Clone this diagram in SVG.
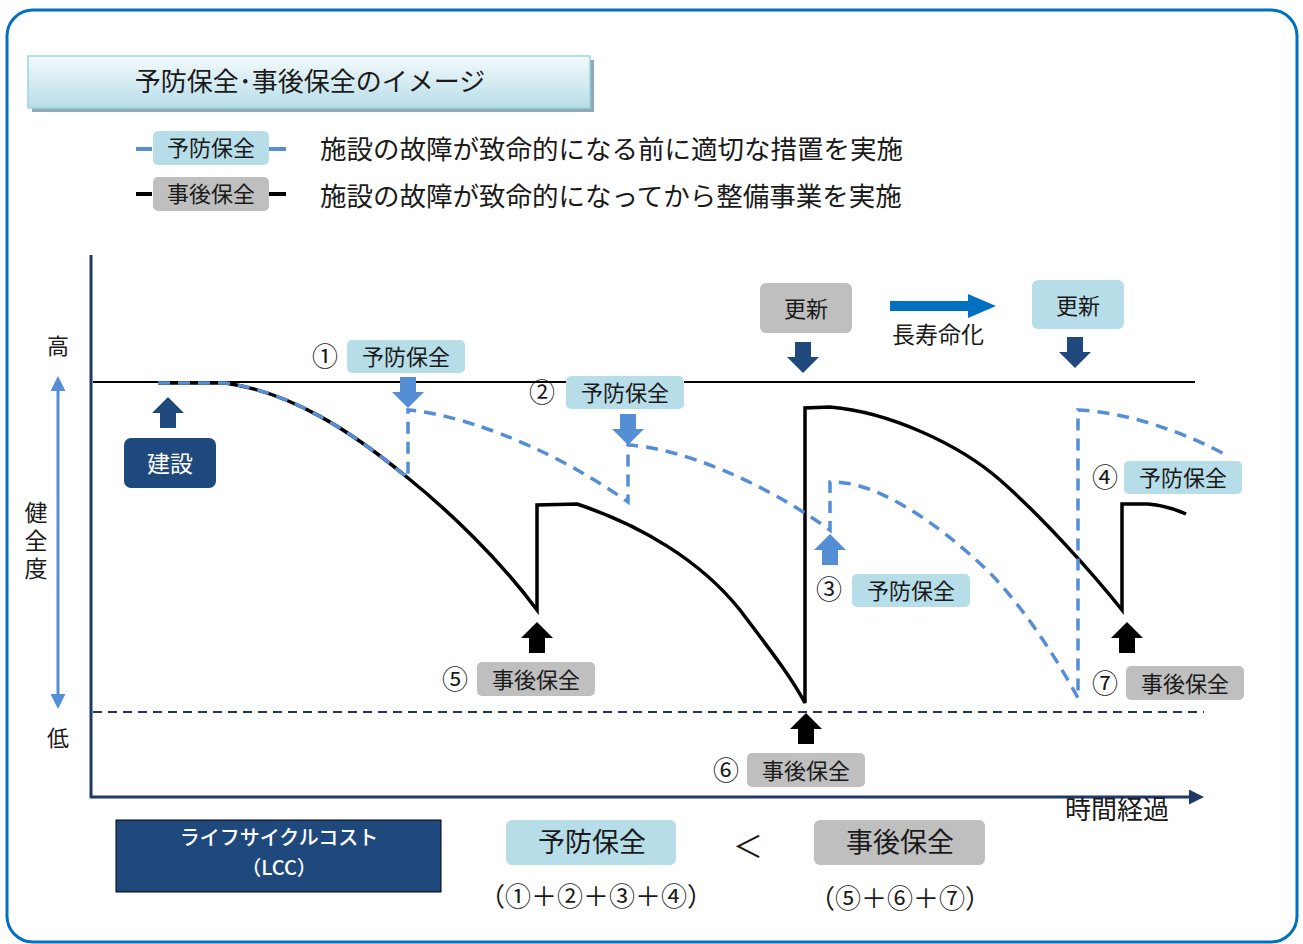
<svg xmlns="http://www.w3.org/2000/svg" xmlns:xlink="http://www.w3.org/1999/xlink" width="1303" height="944" viewBox="0 0 1303 944">
<defs>
<linearGradient id="tg" x1="0" y1="0" x2="0" y2="1">
<stop offset="0" stop-color="#F4FAFC"/>
<stop offset="1" stop-color="#B7DDE8"/>
</linearGradient>
<path id="arrUp" d="M0,0 L16,16 L8,16 L8,31 L-8,31 L-8,16 L-16,16 Z"/>
<path id="arrDn" d="M0,0 L16,-16 L8,-16 L8,-31 L-8,-31 L-8,-16 L-16,-16 Z"/>
<marker id="axHead" viewBox="0 0 10 10" refX="2" refY="5" markerWidth="5" markerHeight="5" orient="auto" markerUnits="strokeWidth">
<path d="M0,0 L10,5 L0,10 Z" fill="#1F3864"/>
</marker>
<marker id="blHead" viewBox="0 0 10 10" refX="2" refY="5" markerWidth="5" markerHeight="5" orient="auto-start-reverse" markerUnits="strokeWidth">
<path d="M0,0 L10,5 L0,10 Z" fill="#558ED5"/>
</marker>
</defs>
<style>
text{font-family:"Noto Sans CJK JP","Noto Sans",sans-serif;fill:#1a1a1a;}
.c{text-anchor:middle;}
.pv{fill:#B7DDE8;}
.co{fill:#BFBFBF;}
.lbl{font-size:22px;}
.num{font-size:26px;}
.bd{stroke:#558ED5;stroke-width:3.5;fill:none;stroke-dasharray:12 8;}
.bk{stroke:#000;stroke-width:3.5;fill:none;stroke-linejoin:miter;}
</style>
<rect x="7" y="10" width="1290" height="932" rx="26" fill="#fff" stroke="#0070C0" stroke-width="3"/>

<g id="title">
<rect x="32" y="60" width="562" height="52" fill="#8EA9B5"/>
<rect x="28" y="56" width="562" height="52" fill="url(#tg)" stroke="#9DD3DE" stroke-width="1.5"/>
<text x="310" y="91" class="c" font-size="26">予防保全･事後保全のイメージ</text>
</g>

<g id="legend">
<line x1="136" y1="149" x2="152" y2="149" stroke="#558ED5" stroke-width="4"/>
<line x1="269" y1="149" x2="286" y2="149" stroke="#558ED5" stroke-width="4"/>
<rect x="153" y="131" width="116" height="34" rx="5" class="pv"/>
<text x="211" y="156" class="c" font-size="22">予防保全</text>
<line x1="136" y1="194" x2="152" y2="194" stroke="#000" stroke-width="4"/>
<line x1="269" y1="194" x2="286" y2="194" stroke="#000" stroke-width="4"/>
<rect x="153" y="177" width="116" height="34" rx="5" class="co"/>
<text x="211" y="202" class="c" font-size="22">事後保全</text>
<text x="320" y="159" font-size="26.5">施設の故障が致命的になる前に適切な措置を実施</text>
<text x="320" y="206" font-size="26.5">施設の故障が致命的になってから整備事業を実施</text>
</g>

<g id="axes">
<line x1="91" y1="255" x2="91" y2="798" stroke="#1F3864" stroke-width="3"/>
<line x1="90" y1="797" x2="1192" y2="797" stroke="#1F3864" stroke-width="3" marker-end="url(#axHead)"/>
<line x1="93" y1="382" x2="1195" y2="382" stroke="#000" stroke-width="2"/>
<line x1="93" y1="712" x2="1204" y2="712" stroke="#1F3864" stroke-width="2" stroke-dasharray="9 6"/>
<line x1="58" y1="388" x2="58" y2="697" stroke="#558ED5" stroke-width="3" marker-start="url(#blHead)" marker-end="url(#blHead)"/>
<text x="58" y="354" class="c" font-size="22">高</text>
<text x="36" y="501" font-size="23" writing-mode="vertical-rl" letter-spacing="5">健全度</text>
<text x="58" y="746" class="c" font-size="22">低</text>
<text x="1117" y="819" class="c" font-size="26">時間経過</text>
</g>

<g id="curves">
<path class="bk" d="M158,383 L225,383 C290,392 350,430 408,478 C450,512 500,560 537,610 L537,505 L577,504 C640,525 700,560 740,610 C770,650 790,675 805,703 L805,408 L830,407 C890,412 960,445 1000,480 C1040,515 1090,570 1122,610 L1122,504 L1148,504 C1160,505 1175,509 1186,514"/>
<path class="bd" d="M158,383 L225,383 C290,392 350,430 408,478 L408,410 C450,413 540,440 628,502 L628,445 C680,448 760,480 830,530 L830,482 C870,480 930,515 990,573 C1030,615 1060,665 1078,698 L1078,410 C1130,412 1190,435 1228,456"/>
</g>

<g id="construction">
<use xlink:href="#arrUp" x="168" y="397" fill="#1F497D"/>
<rect x="124" y="438" width="92" height="50" rx="7" fill="#1F497D"/>
<text x="170" y="472" class="c" font-size="23" style="fill:#fff">建設</text>
</g>

<g id="pm1">
<text x="325" y="366" class="c num">①</text>
<rect x="347" y="340" width="118" height="33" rx="5" class="pv"/>
<text x="406" y="365" class="c lbl">予防保全</text>
<use xlink:href="#arrDn" x="408" y="408" fill="#558ED5"/>
</g>
<g id="pm2">
<text x="542" y="402" class="c num">②</text>
<rect x="566" y="376" width="118" height="33" rx="5" class="pv"/>
<text x="625" y="401" class="c lbl">予防保全</text>
<use xlink:href="#arrDn" x="628" y="445" fill="#558ED5"/>
</g>
<g id="pm3">
<use xlink:href="#arrUp" x="830" y="534" fill="#558ED5"/>
<text x="829" y="599" class="c num">③</text>
<rect x="852" y="574" width="118" height="33" rx="5" class="pv"/>
<text x="911" y="599" class="c lbl">予防保全</text>
</g>
<g id="pm4">
<text x="1105" y="487" class="c num">④</text>
<rect x="1124" y="461" width="118" height="33" rx="5" class="pv"/>
<text x="1183" y="486" class="c lbl">予防保全</text>
</g>
<g id="cm5">
<use xlink:href="#arrUp" x="537" y="622" fill="#000"/>
<text x="455" y="689" class="c num">⑤</text>
<rect x="477" y="662" width="118" height="34" rx="5" class="co"/>
<text x="536" y="688" class="c lbl">事後保全</text>
</g>
<g id="cm6">
<use xlink:href="#arrUp" x="806" y="713" fill="#000"/>
<text x="726" y="780" class="c num">⑥</text>
<rect x="747" y="753" width="118" height="34" rx="5" class="co"/>
<text x="806" y="779" class="c lbl">事後保全</text>
</g>
<g id="cm7">
<use xlink:href="#arrUp" x="1127" y="622" fill="#000"/>
<text x="1105" y="693" class="c num">⑦</text>
<rect x="1126" y="666" width="118" height="34" rx="5" class="co"/>
<text x="1185" y="692" class="c lbl">事後保全</text>
</g>

<g id="renew1">
<rect x="760" y="283" width="92" height="50" rx="6" class="co"/>
<text x="806" y="317" class="c lbl">更新</text>
<use xlink:href="#arrDn" x="803" y="373" fill="#1F497D"/>
</g>
<g id="renew2">
<rect x="1032" y="280" width="92" height="49" rx="6" class="pv"/>
<text x="1078" y="314" class="c lbl">更新</text>
<use xlink:href="#arrDn" x="1075" y="368" fill="#1F497D"/>
</g>
<g id="longevity">
<path d="M890,301 L968,301 L968,294 L996,306 L968,318 L968,311 L890,311 Z" fill="#0070C0"/>
<text x="938" y="343" class="c" font-size="23">長寿命化</text>
</g>

<g id="lcc">
<rect x="116" y="820" width="325" height="72" fill="#1F497D" stroke="#000" stroke-width="1"/>
<text x="279" y="845" class="c" font-size="20" font-weight="500" style="fill:#fff">ライフサイクルコスト</text>
<text x="279" y="875" class="c" font-size="20" font-weight="500" style="fill:#fff">（LCC）</text>
</g>
<g id="lcc-pm">
<rect x="506" y="820" width="170" height="45" rx="6" class="pv"/>
<text x="592" y="852" class="c" font-size="27">予防保全</text>
<text x="596" y="906" class="c" font-size="26">（①＋②＋③＋④）</text>
</g>
<text x="748" y="857" class="c" font-size="30">＜</text>
<g id="lcc-cm">
<rect x="814" y="820" width="171" height="45" rx="6" class="co"/>
<text x="900" y="852" class="c" font-size="27">事後保全</text>
<text x="900" y="908" class="c" font-size="26">（⑤＋⑥＋⑦）</text>
</g>
</svg>
